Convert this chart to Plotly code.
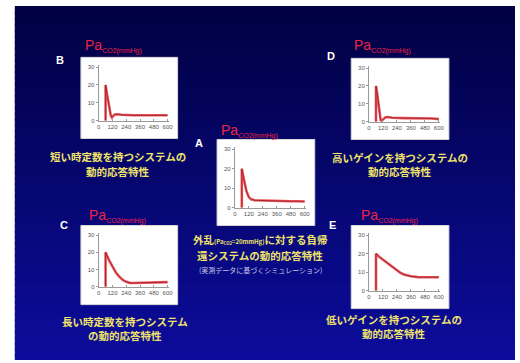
import plotly.graph_objects as go

# ---- data: PaCO2 (mmHg) response over time (s) ----
time_ticks = [0, 120, 240, 360, 480, 600]
pa_ticks = [0, 10, 20, 30]

# A: negative feedback system (simulation from measured data)
t_a = [60, 60, 80, 100, 120, 140, 170, 240, 300, 360, 420, 480, 540, 600]
y_a = [0, 20, 14, 8.5, 5.5, 4.3, 3.8, 3.6, 3.5, 3.4, 3.4, 3.3, 3.3, 3.2]

# B: short time constant
t_b = [60, 60, 75, 90, 105, 115, 125, 140, 160, 200, 300, 400, 500, 600]
y_b = [0, 20, 14, 7, 3, 1.8, 2.5, 3.5, 3.6, 3.3, 3.0, 3.0, 3.0, 3.0]

# C: long time constant
t_c = [60, 60, 90, 120, 150, 180, 210, 240, 270, 300, 360, 420, 480, 540, 600]
y_c = [0, 20, 15.5, 11.5, 8.3, 5.8, 4.0, 2.9, 2.3, 2.2, 2.3, 2.4, 2.5, 2.6, 2.7]

# D: high gain
t_d = [60, 60, 70, 80, 90, 100, 110, 125, 140, 160, 200, 300, 400, 480, 540, 600]
y_d = [0, 20, 16, 10, 4, 0.8, 0.5, 1.5, 2.4, 2.6, 2.2, 2.0, 2.0, 1.9, 1.8, 1.4]

# E: low gain
t_e = [60, 60, 90, 120, 150, 180, 210, 240, 270, 300, 360, 420, 480, 540, 600]
y_e = [0, 20, 18.2, 16.8, 15.2, 13.8, 12.3, 10.8, 9.7, 8.8, 7.8, 7.4, 7.3, 7.3, 7.3]

letters = ["A", "B", "C", "D", "E"]
captions = [
    ["外乱<span style='font-size:6px'>(Pa<sub>CO2</sub>=20mmHg)</span>に対する負帰",
     "還システムの動的応答特性"],
    ["短い時定数を持つシステムの", "動的応答特性"],
    ["長い時定数を持つシステム", "の動的応答特性"],
    ["高いゲインを持つシステムの", "動的応答特性"],
    ["低いゲインを持つシステムの", "動的応答特性"],
]
note_a = "(実測データに基づくシミュレーション)"

W, H = 520, 363
series = [(t_a, y_a), (t_b, y_b), (t_c, y_c), (t_d, y_d), (t_e, y_e)]

# white card of each panel (px: left, top, right, bottom)
boxes = [(218, 140, 317, 227), (80, 57, 178, 139), (80, 227, 178, 307),
         (354, 58, 453, 140), (354, 227, 453, 311)]
pa_pos = [(220, 131), (82, 46), (86, 217), (355, 46), (362, 217)]
letter_pos = [(200, 144), (59, 60), (63, 226), (333, 56), (335, 227)]
cap_pos = [(262, 241, 257), (118, 157, 172), (125, 324, 338),
           (403, 158, 172), (397, 322, 336)]


def px(x):
    return x / W


def py(y):
    return 1 - y / H


fig = go.Figure()
shapes = []
annotations = []

# slide background: vertical navy-to-blue gradient (overlapping strips)
n_strips = 60
top_c, bot_c = (0, 0, 66), (12, 12, 156)
y_start, y_end = 5, H
step = (y_end - y_start) / n_strips
for i in range(n_strips):
    f = i / (n_strips - 1)
    c = tuple(round(top_c[k] + (bot_c[k] - top_c[k]) * f) for k in range(3))
    y0 = y_start + step * i
    y1 = min(y0 + step + 3, H)
    shapes.append(dict(type="rect", xref="paper", yref="paper", layer="below",
                       x0=px(13), x1=1, y0=py(y1), y1=py(y0),
                       fillcolor=f"rgb{c}", line=dict(width=0)))

red = "#ec2442"
yellow = "#efe36a"
cjk = "Noto Sans CJK JP"

for i, ((tt, yy), box) in enumerate(zip(series, boxes)):
    n = i + 1
    l, t, r, b = box
    shapes.append(dict(type="rect", xref="paper", yref="paper", layer="below",
                       x0=px(l), x1=px(r), y0=py(b), y1=py(t),
                       fillcolor="white", line=dict(color="#d8d8d8", width=1)))
    xa = dict(domain=[px(l + 18), px(r - 9)], range=[0, 610], anchor=f"y{n}",
              tickvals=time_ticks, showgrid=False, zeroline=False,
              showline=True, linecolor="#9a9a9a", linewidth=1,
              ticks="inside", ticklen=2, tickcolor="#9a9a9a",
              tickfont=dict(size=6, color="#555", family="Arial"))
    ya = dict(domain=[py(b - 18), py(t + 8)], range=[0, 31], anchor=f"x{n}",
              tickvals=pa_ticks, showgrid=False, zeroline=False,
              showline=True, linecolor="#9a9a9a", linewidth=1,
              ticks="outside", ticklen=2, tickcolor="#9a9a9a",
              tickfont=dict(size=6, color="#555", family="Arial"))
    fig.update_layout(**{f"xaxis{n}": xa, f"yaxis{n}": ya})
    fig.add_trace(go.Scatter(x=tt, y=yy, mode="lines", xaxis=f"x{n}", yaxis=f"y{n}",
                             line=dict(color="rgba(232,60,60,0.85)", width=2.6),
                             hoverinfo="skip", showlegend=False))
    fig.add_trace(go.Scatter(x=tt, y=yy, mode="lines", xaxis=f"x{n}", yaxis=f"y{n}",
                             line=dict(color="#9a1830", width=0.8),
                             hoverinfo="skip", showlegend=False))

    # PaCO2 label above the card
    ax, ay = pa_pos[i]
    annotations.append(dict(x=px(ax), y=py(ay), xref="paper", yref="paper",
                            xanchor="left", yanchor="middle", showarrow=False,
                            text="Pa<sub><span style='font-size:7px'>CO2(mmHg)</span></sub>",
                            font=dict(size=14, color=red, family="Arial")))
    # panel letter
    lx, ly = letter_pos[i]
    annotations.append(dict(x=px(lx), y=py(ly), xref="paper", yref="paper",
                            xanchor="center", yanchor="middle", showarrow=False,
                            text=f"<b>{letters[i]}</b>",
                            font=dict(size=11, color="white", family="Arial")))
    # caption
    cx, c1, c2 = cap_pos[i]
    for line, yline in zip(captions[i], (c1, c2)):
        annotations.append(dict(x=px(cx), y=py(yline), xref="paper", yref="paper",
                                xanchor="center", yanchor="middle", showarrow=False,
                                text=f"<b>{line}</b>",
                                font=dict(size=10.5, color=yellow, family=cjk)))

annotations.append(dict(x=px(262), y=py(272), xref="paper", yref="paper",
                        xanchor="center", yanchor="middle", showarrow=False,
                        text=note_a, font=dict(size=7, color="#c8c8e4", family=cjk)))

fig.update_layout(width=W, height=H, margin=dict(l=0, r=0, t=0, b=0),
                  paper_bgcolor="white", plot_bgcolor="rgba(0,0,0,0)",
                  shapes=shapes, annotations=annotations, showlegend=False)

fig.write_html("out.html")
